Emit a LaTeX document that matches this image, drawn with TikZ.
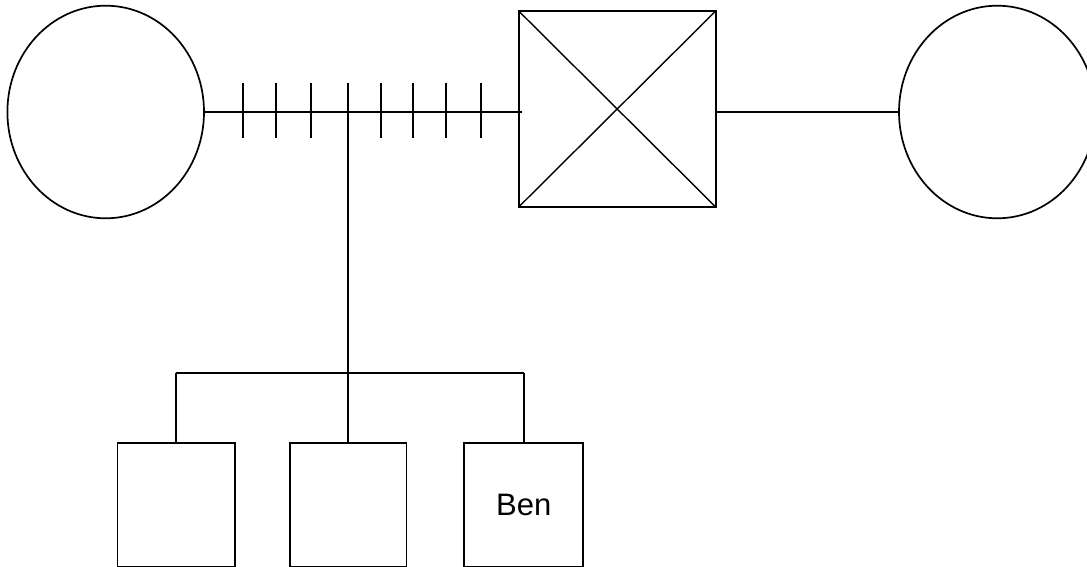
\documentclass[tikz,border=0pt]{standalone}
\usepackage{fontspec}
\setmainfont{Liberation Sans}
\usetikzlibrary{shapes.geometric}
\begin{document}
\begin{tikzpicture}[x=1pt,y=-1pt,line width=1.7pt,
  person/.style={draw,ellipse,inner sep=0pt,outer sep=0pt,minimum width=196.6pt,minimum height=212.6pt},
  childbox/.style={draw,rectangle,inner sep=0pt,outer sep=0pt,minimum height=123.5pt,font=\fontsize{31}{36}\selectfont},
  xbox/.style={draw,rectangle,inner sep=0pt,outer sep=0pt,minimum width=197pt,minimum height=196pt}]
\useasboundingbox (0,0) rectangle (1087,567);
\node[person] (L) at (105.7,112) {};
\node[person] (R) at (997.3,112) {};
\node[xbox] (X) at (617.2,109) {};
\draw[line width=1.4pt] (X.north west) -- (X.south east) (X.north east) -- (X.south west);
\node[childbox,minimum width=117.7pt] (c1) at (176.2,504.75) {};
\node[childbox,minimum width=116.7pt] (c2) at (348.0,504.75) {};
\node[childbox,minimum width=119pt] (c3) at (523.8,504.75) {Ben};
% marriage line with ticks
\coordinate (me) at ([xshift=3pt]X.west |- L.east);
\draw (L.east) -- (me);
\foreach \tx in {243.3,276,311,381,413,446,481}{
  \draw (\tx,83) -- (\tx,138);
}
\coordinate (mt) at (348.0,83);
\coordinate (bus) at (348.0,372.7);
\draw (mt) -- (bus);
\draw (R.west -| X.east) -- (R.west);
% sibling bus
\draw (c1.north |- bus) -- (c3.north |- bus);
\draw (c1.north |- bus) -- (c1.north);
\draw (bus) -- (c2.north);
\draw (c3.north |- bus) -- (c3.north);
\end{tikzpicture}
\end{document}
